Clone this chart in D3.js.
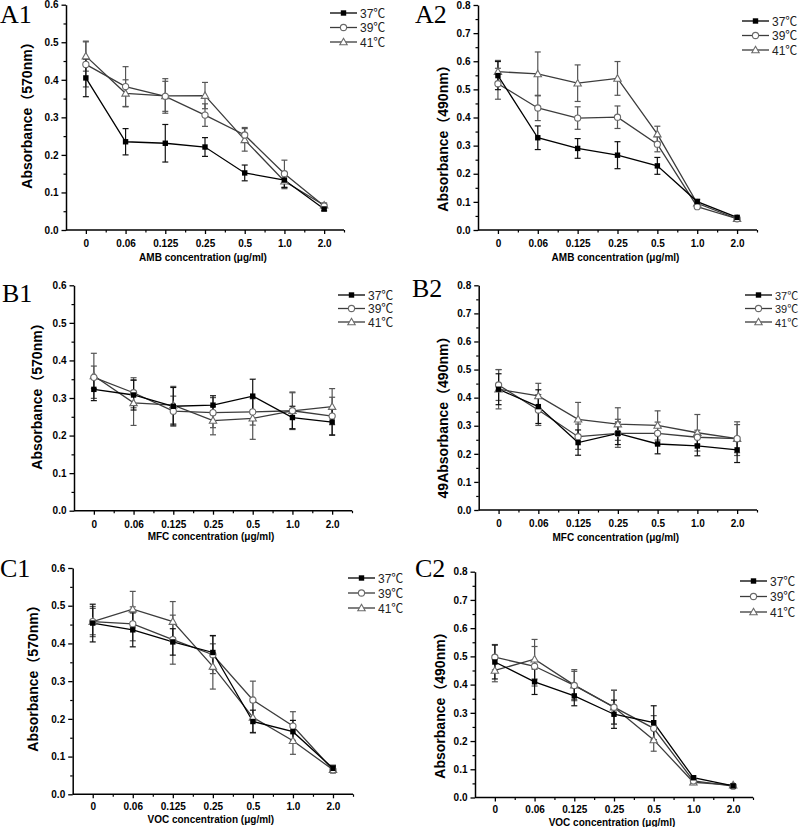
<!DOCTYPE html>
<html><head><meta charset="utf-8">
<script src="https://cdn.jsdelivr.net/npm/d3@7"></script>
<style>
html,body{margin:0;padding:0;background:#fff;}
svg{display:block;}
</style></head>
<body>
<svg id="chart" width="800" height="827"></svg>
<script>
// ---------- DATA ----------
const categories = ["0", "0.06", "0.125", "0.25", "0.5", "1.0", "2.0"];
const seriesNames = ["37℃", "39℃", "41℃"];

const a1_37 = [0.405, 0.235, 0.231, 0.221, 0.152, 0.133, 0.056];
const a1_39 = [0.441, 0.382, 0.356, 0.306, 0.253, 0.150, 0.064];
const a1_41 = [0.463, 0.364, 0.357, 0.358, 0.240, 0.130, 0.066];
const a1_37_err = [0.050, 0.035, 0.050, 0.025, 0.021, 0.020, 0.005];
const a1_39_err = [0.060, 0.053, 0.040, 0.030, 0.020, 0.036, 0.005];
const a1_41_err = [0.040, 0.036, 0.046, 0.035, 0.030, 0.020, 0.006];

const a2_37 = [0.549, 0.328, 0.290, 0.266, 0.228, 0.101, 0.045];
const a2_39 = [0.520, 0.434, 0.398, 0.401, 0.305, 0.083, 0.040];
const a2_41 = [0.563, 0.555, 0.522, 0.539, 0.341, 0.095, 0.040];
const a2_37_err = [0.050, 0.042, 0.035, 0.048, 0.030, 0.008, 0.004];
const a2_39_err = [0.055, 0.045, 0.040, 0.040, 0.027, 0.006, 0.004];
const a2_41_err = [0.040, 0.078, 0.065, 0.060, 0.028, 0.008, 0.004];

const b1_37 = [0.323, 0.308, 0.278, 0.281, 0.305, 0.248, 0.236];
const b1_39 = [0.355, 0.314, 0.265, 0.261, 0.263, 0.266, 0.252];
const b1_41 = [0.359, 0.287, 0.281, 0.240, 0.246, 0.266, 0.277];
const b1_37_err = [0.030, 0.040, 0.050, 0.025, 0.045, 0.030, 0.035];
const b1_39_err = [0.030, 0.040, 0.040, 0.040, 0.035, 0.050, 0.050];
const b1_41_err = [0.060, 0.060, 0.050, 0.038, 0.056, 0.048, 0.048];

const b2_37 = [0.430, 0.368, 0.240, 0.273, 0.235, 0.228, 0.214];
const b2_39 = [0.445, 0.356, 0.261, 0.273, 0.273, 0.259, 0.254];
const b2_41 = [0.430, 0.406, 0.323, 0.306, 0.301, 0.275, 0.254];
const b2_37_err = [0.055, 0.060, 0.045, 0.040, 0.035, 0.035, 0.045];
const b2_39_err = [0.055, 0.055, 0.045, 0.050, 0.040, 0.025, 0.050];
const b2_41_err = [0.070, 0.045, 0.060, 0.058, 0.052, 0.065, 0.060];

const c1_37 = [0.454, 0.436, 0.404, 0.376, 0.193, 0.166, 0.069];
const c1_39 = [0.458, 0.452, 0.410, 0.370, 0.250, 0.181, 0.065];
const c1_41 = [0.458, 0.491, 0.458, 0.339, 0.204, 0.142, 0.065];
const c1_37_err = [0.050, 0.045, 0.035, 0.045, 0.030, 0.030, 0.008];
const c1_39_err = [0.035, 0.045, 0.065, 0.050, 0.050, 0.038, 0.008];
const c1_41_err = [0.040, 0.047, 0.053, 0.060, 0.040, 0.036, 0.008];

const c2_37 = [0.480, 0.410, 0.360, 0.295, 0.265, 0.070, 0.041];
const c2_39 = [0.497, 0.465, 0.397, 0.320, 0.245, 0.059, 0.040];
const c2_41 = [0.450, 0.490, 0.398, 0.320, 0.204, 0.054, 0.044];
const c2_37_err = [0.060, 0.045, 0.035, 0.050, 0.060, 0.006, 0.004];
const c2_39_err = [0.045, 0.070, 0.050, 0.060, 0.045, 0.008, 0.004];
const c2_41_err = [0.040, 0.070, 0.055, 0.060, 0.040, 0.008, 0.004];

const yTicks06 = [0.0, 0.1, 0.2, 0.3, 0.4, 0.5, 0.6];
const yTicks08 = [0.0, 0.1, 0.2, 0.3, 0.4, 0.5, 0.6, 0.7, 0.8];

// ---------- LAYOUT ----------
const panels = [
  {tag:"A1", tx:0, ty:23, left:66, right:344, top:4.7, bottom:230, ymax:0.6, yt:yTicks06,
   ylab:"Absorbance（570nm）", ylx:27, yly:112, xlab:"AMB concentration (μg/ml)", xly:261, xtp:6,
   lgx:330, lgy:13, lgdy:14.5, lgfs:12,
   s:[a1_37,a1_39,a1_41], e:[a1_37_err,a1_39_err,a1_41_err]},
  {tag:"A2", tx:415, ty:23, left:478, right:757, top:5, bottom:230, ymax:0.8, yt:yTicks08,
   ylab:"Absorbance（490nm）", ylx:443, yly:135, xlab:"AMB concentration (μg/ml)", xly:261, xtp:6,
   lgx:742, lgy:21, lgdy:14.5, lgfs:12,
   s:[a2_37,a2_39,a2_41], e:[a2_37_err,a2_39_err,a2_41_err]},
  {tag:"B1", tx:2, ty:302, left:74, right:352, top:285.3, bottom:510.7, ymax:0.6, yt:yTicks06,
   ylab:"Absorbance（570nm）", ylx:37, yly:393, xlab:"MFC concentration (μg/ml)", xly:540, xtp:6,
   lgx:338, lgy:295, lgdy:13.5, lgfs:12,
   s:[b1_37,b1_39,b1_41], e:[b1_37_err,b1_39_err,b1_41_err]},
  {tag:"B2", tx:412, ty:297, left:478.7, right:757, top:285.3, bottom:510, ymax:0.8, yt:yTicks08,
   ylab:"49Absorbance（490nm）", ylx:443, yly:414, xlab:"MFC concentration (μg/ml)", xly:541, xtp:6,
   lgx:745, lgy:295, lgdy:13.5, lgfs:11,
   s:[b2_37,b2_39,b2_41], e:[b2_37_err,b2_39_err,b2_41_err]},
  {tag:"C1", tx:0, ty:577, left:72.7, right:353, top:568, bottom:794.3, ymax:0.6, yt:yTicks06,
   ylab:"Absorbance（570nm）", ylx:33, yly:675, xlab:"VOC concentration (μg/ml)", xly:823, xtp:5,
   lgx:348, lgy:578, lgdy:15, lgfs:12,
   s:[c1_37,c1_39,c1_41], e:[c1_37_err,c1_39_err,c1_41_err]},
  {tag:"C2", tx:415, ty:577, left:475, right:753, top:571.7, bottom:797.5, ymax:0.8, yt:yTicks08,
   ylab:"Absorbance（490nm）", ylx:440, yly:702, xlab:"VOC concentration (μg/ml)", xly:825.5, xtp:4.5,
   lgx:740, lgy:581, lgdy:15.5, lgfs:12,
   s:[c2_37,c2_39,c2_41], e:[c2_37_err,c2_39_err,c2_41_err]}
];

const lineCol = ["#000000", "#3c3c3c", "#3c3c3c"];
const markCol = ["#000000", "#6a6a6a", "#6a6a6a"];
const errCol = ["#111111", "#555555", "#555555"];
const FONT = "'Liberation Sans', Arial, 'Noto Sans CJK SC', sans-serif";

const svg = d3.select("#chart");

function drawMarker(g, type, x, y) {
  if (type === 0) {
    g.append("rect").attr("x", x - 2.7).attr("y", y - 2.7).attr("width", 5.4).attr("height", 5.4)
      .attr("fill", "#000");
  } else if (type === 1) {
    g.append("circle").attr("cx", x).attr("cy", y).attr("r", 3.1)
      .attr("fill", "#fff").attr("stroke", markCol[1]).attr("stroke-width", 1.1);
  } else {
    const s = 3.7;
    g.append("path").attr("d", `M${x},${y - s}L${x + s},${y + s * 0.75}L${x - s},${y + s * 0.75}Z`)
      .attr("fill", "#fff").attr("stroke", markCol[2]).attr("stroke-width", 1.1);
  }
}

panels.forEach(p => {
  const g = svg.append("g");
  const x = d3.scalePoint().domain(categories).range([p.left, p.right]).padding(0.5);
  const xb = d3.scaleLinear().domain([0, categories.length]).range([p.left, p.right]);
  const y = d3.scaleLinear().domain([0, p.ymax]).range([p.bottom, p.top]);

  // panel tag
  g.append("text").attr("x", p.tx).attr("y", p.ty).text(p.tag)
    .attr("font-family", "'Liberation Serif', 'Times New Roman', serif")
    .attr("font-size", 26).attr("fill", "#000");

  // y axis minor
  const minorY = d3.range(0.05, p.ymax, 0.1);
  g.append("g").attr("transform", `translate(${p.left},0)`)
    .call(d3.axisLeft(y).tickValues(minorY).tickFormat("").tickSize(2.5).tickSizeOuter(0))
    .call(a => a.select(".domain").remove())
    .selectAll("line").attr("stroke", "#000").attr("stroke-width", 1.2);
  // y axis major
  const ya = g.append("g").attr("transform", `translate(${p.left},0)`)
    .call(d3.axisLeft(y).tickValues(p.yt).tickFormat(d3.format(".1f")).tickSize(4.5).tickSizeOuter(0).tickPadding(3));
  ya.select(".domain").attr("stroke", "#000").attr("stroke-width", 1.5);
  ya.selectAll("line").attr("stroke", "#000").attr("stroke-width", 1.3);
  ya.selectAll("text").attr("font-family", FONT).attr("font-size", 10).attr("font-weight", "bold").attr("fill", "#000");

  // x axis minor (boundaries)
  g.append("g").attr("transform", `translate(0,${p.bottom})`)
    .call(d3.axisBottom(xb).tickValues(d3.range(1, categories.length + 1)).tickFormat("").tickSize(2.5).tickSizeOuter(0))
    .call(a => a.select(".domain").remove())
    .selectAll("line").attr("stroke", "#000").attr("stroke-width", 1.2);
  // x axis major
  const xa = g.append("g").attr("transform", `translate(0,${p.bottom})`)
    .call(d3.axisBottom(x).tickSize(4).tickSizeOuter(0).tickPadding(p.xtp));
  xa.select(".domain").attr("stroke", "#000").attr("stroke-width", 1.5)
    .attr("d", `M${p.left},0H${p.right}`);
  xa.selectAll("line").attr("stroke", "#000").attr("stroke-width", 1.3);
  xa.selectAll("text").attr("font-family", FONT).attr("font-size", 10).attr("font-weight", "bold").attr("fill", "#000");

  // axis titles
  g.append("text").attr("x", (p.left + p.right) / 2 - 2).attr("y", p.xly)
    .attr("text-anchor", "middle").attr("font-family", FONT).attr("font-size", 10).attr("font-weight", "bold")
    .text(p.xlab);
  g.append("text").attr("transform", `translate(${p.ylx + 5},${p.yly}) rotate(-90)`)
    .attr("text-anchor", "middle").attr("font-family", FONT).attr("font-size", 14).attr("font-weight", "bold")
    .text(p.ylab);

  // error bars
  const order = [2, 1, 0];
  order.forEach(si => {
    const vals = p.s[si], errs = p.e[si];
    const eg = g.append("g").attr("stroke", errCol[si]).attr("stroke-width", 1.2);
    vals.forEach((v, k) => {
      const cx = x(categories[k]);
      eg.append("line").attr("x1", cx).attr("x2", cx).attr("y1", y(v - errs[k])).attr("y2", y(v + errs[k]));
      eg.append("line").attr("x1", cx - 3).attr("x2", cx + 3).attr("y1", y(v - errs[k])).attr("y2", y(v - errs[k]));
      eg.append("line").attr("x1", cx - 3).attr("x2", cx + 3).attr("y1", y(v + errs[k])).attr("y2", y(v + errs[k]));
    });
  });
  // lines
  const line = d3.line().x((d, k) => x(categories[k])).y(d => y(d));
  order.forEach(si => {
    g.append("path").datum(p.s[si]).attr("d", line).attr("fill", "none")
      .attr("stroke", lineCol[si]).attr("stroke-width", 1.3);
  });
  // markers
  order.forEach(si => {
    const mg = g.append("g");
    p.s[si].forEach((v, k) => drawMarker(mg, si, x(categories[k]), y(v)));
  });

  // legend
  seriesNames.forEach((name, si) => {
    const ly = p.lgy + si * p.lgdy;
    g.append("line").attr("x1", p.lgx).attr("x2", p.lgx + 27).attr("y1", ly).attr("y2", ly)
      .attr("stroke", lineCol[si]).attr("stroke-width", 1.3);
    drawMarker(g, si, p.lgx + 13.5, ly);
    g.append("text").attr("x", p.lgx + 30).attr("y", ly + 4.5)
      .attr("font-family", FONT).attr("font-size", p.lgfs).attr("fill", "#222").text(name);
  });
});
</script>
</body></html>
